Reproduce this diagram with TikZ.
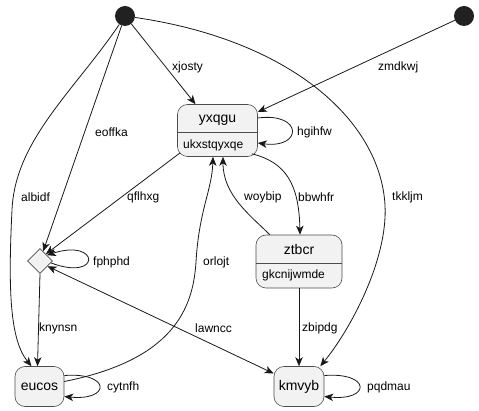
\documentclass[tikz,border=0pt]{standalone}
\usepackage{fontspec}
\setmainfont{Liberation Sans}
\usetikzlibrary{arrows.meta,shapes.geometric}
\begin{document}
\begin{tikzpicture}[x=1pt,y=1pt,
	st/.style={draw=black!70,fill=black!5,line width=0.6pt,rounded corners=10pt,inner sep=0pt},
	ini/.style={circle,fill=black!87,inner sep=0pt,minimum size=20pt},
	choice/.style={diamond,draw=black!70,fill=black!5,line width=0.6pt,inner sep=0pt,minimum width=25pt,minimum height=25pt},
	tr/.style={draw=black!90,line width=0.8pt,-{Stealth[length=9pt,width=7.5pt,inset=2.5pt]}},
	lbl/.style={anchor=west,inner sep=0pt,font=\fontsize{12}{14}\selectfont},
	big/.style={inner sep=0pt,font=\fontsize{14}{16}\selectfont},
	small/.style={inner sep=0pt,anchor=west,font=\fontsize{12}{14}\selectfont}]
	\useasboundingbox (0,0) rectangle (479,-411);
	\node[ini] (s1) at (125,-16) {};
	\node[ini] (s2) at (464,-16) {};
	\node[st,minimum width=80pt,minimum height=52pt] (yxqgu) at (217.5,-130.5) {};
	\draw[draw=black!70,line width=0.6pt] ([yshift=-1.5pt]yxqgu.west) -- ([yshift=-1.5pt]yxqgu.east);
	\node[big] at (217.5,-120) {yxqgu};
	\node[small] at (183,-145) {ukxstqyxqe};
	\node[st,minimum width=86pt,minimum height=53pt] (ztbcr) at (299,-261.5) {};
	\draw[draw=black!70,line width=0.6pt] ([yshift=-1.5pt]ztbcr.west) -- ([yshift=-1.5pt]ztbcr.east);
	\node[big] at (299,-249) {ztbcr};
	\node[small] at (262,-275.5) {gkcnijwmde};
	\node[choice] (dia) at (40,-261) {};
	\node[st,big,minimum width=49pt,minimum height=40pt] (eucos) at (39.5,-386.5) {eucos};
	\node[st,big,minimum width=50pt,minimum height=40pt] (kmvyb) at (299,-386.5) {kmvyb};
	\draw[tr] (s1) -- ([xshift=-22pt]yxqgu.north);
	\draw[tr] (s2) -- ([yshift=18.5pt]yxqgu.east);
	\draw[tr] (s1) -- (dia.72);
	\draw[tr] (s1) .. controls (75,-90) and (15,-140) .. (12,-210) .. controls (8,-290) and (10,-340) .. ([xshift=-8pt]eucos.north);
	\draw[tr] (s1) .. controls (290,-40) and (380,-120) .. (385,-205) .. controls (388,-260) and (350,-330) .. ([xshift=-4pt]kmvyb.north east);
	\draw[tr] ([xshift=3pt,yshift=4pt]yxqgu.south west) -- (dia.50);
	\draw[tr] ([yshift=12.5pt]yxqgu.east) .. controls (303,-112) and (303,-149) .. ([yshift=-12.5pt]yxqgu.east);
	\draw[tr] ([xshift=-6pt,yshift=3pt]yxqgu.south east) .. controls (285,-162) and (299,-183) .. ([xshift=1pt]ztbcr.north);
	\draw[tr] ([xshift=14pt]ztbcr.north west) .. controls (250,-215) and (223,-195) .. ([xshift=5.5pt]yxqgu.south);
	\draw[tr] ([yshift=5pt]eucos.east) .. controls (172,-360) and (193,-310) .. (196,-262) .. controls (199,-210) and (212,-190) .. ([xshift=-4.5pt]yxqgu.south);
	\draw[tr] (dia.-10) .. controls (102,-282) and (100,-238) .. (dia.40);
	\draw[tr,{Stealth[length=9pt,width=7.5pt,inset=2.5pt]}-{Stealth[length=9pt,width=7.5pt,inset=2.5pt]}] (dia.-35) -- ([yshift=13pt]kmvyb.west);
	\draw[tr] (dia.south) -- ([xshift=-2pt]eucos.north);
	\draw[tr] (ztbcr.south) -- (kmvyb.north);
	\draw[tr] ([yshift=11pt]eucos.east) .. controls (111,-372) and (111,-401) .. ([yshift=-10pt]eucos.east);
	\draw[tr] ([yshift=11pt]kmvyb.east) .. controls (371,-372) and (371,-401) .. ([yshift=-10pt]kmvyb.east);
	\node[lbl] (l1) at (172,-67) {xjosty};
	\node[lbl] (l2) at (378,-67) {zmdkwj};
	\node[lbl] (l3) at (95,-132) {eoffka};
	\node[lbl] (l4) at (297,-132) {hgihfw};
	\node[lbl] (l5) at (21,-197) {albidf};
	\node[lbl] (l6) at (127,-197) {qflhxg};
	\node[lbl] (l7) at (244,-197) {woybip};
	\node[lbl] (l8) at (298,-197) {bbwhfr};
	\node[lbl] (l9) at (392,-197) {tkkljm};
	\node[lbl] (l10) at (93,-262) {fphphd};
	\node[lbl] (l11) at (203,-262) {orlojt};
	\node[lbl] (l12) at (39,-328) {knynsn};
	\node[lbl] (l13) at (195,-328) {lawncc};
	\node[lbl] (l14) at (302,-328) {zbipdg};
	\node[lbl] (l15) at (107,-387) {cytnfh};
	\node[lbl] (l16) at (367,-387) {pqdmau};
\end{tikzpicture}
\end{document}
